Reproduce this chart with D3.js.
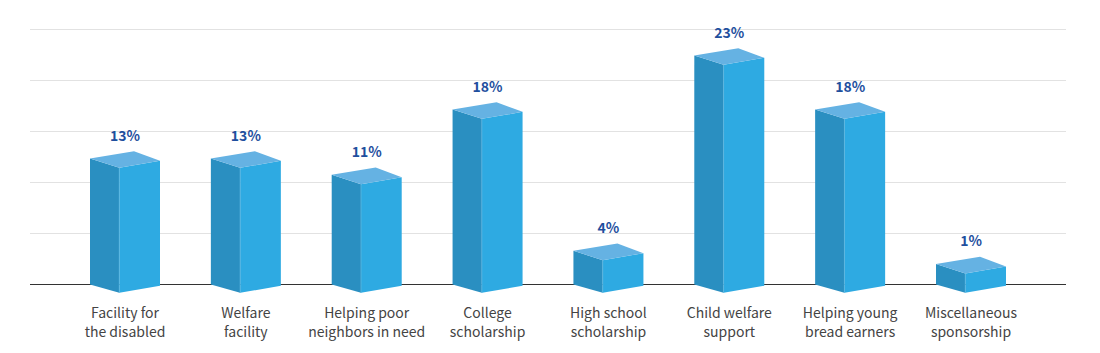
<!DOCTYPE html>
<html>
<head>
<meta charset="utf-8">
<script src="https://cdn.jsdelivr.net/npm/d3@7"></script>
<style>
html, body { margin: 0; padding: 0; background: #fff; }
svg, svg text { display: block; font-family: "Noto Sans CJK KR", "Noto Sans", sans-serif; }
</style>
</head>
<body>
<svg width="1100" height="353"></svg>
<script>
var categories = [
  ["Facility for", "the disabled"],
  ["Welfare", "facility"],
  ["Helping poor", "neighbors in need"],
  ["College", "scholarship"],
  ["High school", "scholarship"],
  ["Child welfare", "support"],
  ["Helping young", "bread earners"],
  ["Miscellaneous", "sponsorship"]
];
var labels = ["13%", "13%", "11%", "18%", "4%", "23%", "18%", "1%"];
// drawn heights, in grid units (the 3d columns don't follow the printed % exactly)
var heights = [12.35, 12.35, 10.75, 17.15, 3.3, 22.45, 17.15, 2.0];
var gridTicks = [0, 5, 10, 15, 20, 25];

var svg = d3.select("svg");

var x = d3.scalePoint().domain(d3.range(categories.length)).range([125, 971]);
var y = d3.scaleLinear().domain([0, 25]).range([284.5, 29.5]);

// gridlines
var grid = svg.append("g")
  .attr("transform", "translate(30,0)")
  .call(d3.axisLeft(y).offset(0).tickValues(gridTicks).tickSize(-1036).tickFormat(""));
grid.select(".domain").remove();
grid.selectAll("line").attr("stroke", "#e2e2e2");

// baseline
svg.append("line")
  .attr("x1", 30).attr("x2", 1066)
  .attr("y1", y(0)).attr("y2", y(0))
  .attr("stroke", "#333");

// x labels
var xAxis = svg.append("g")
  .attr("transform", "translate(0," + y(0) + ")")
  .call(d3.axisBottom(x).offset(0).tickSize(0).tickFormat(""));
xAxis.select(".domain").remove();
xAxis.selectAll(".tick text").each(function(d) {
  var t = d3.select(this).attr("y", 0).attr("dy", null)
    .attr("fill", "#444").attr("font-size", 14);
  t.selectAll("tspan").data(categories[d]).enter().append("tspan")
    .attr("x", 0)
    .attr("y", function(s, i) { return 33.5 + i * 19; })
    .text(function(s) { return s; });
});

// columns
var bars = svg.selectAll(".bar").data(heights).enter().append("g")
  .attr("class", "bar")
  .attr("transform", function(d, i) { return "translate(" + x(i) + ",0)"; });

function pts(a) { return a.map(function(p) { return p.join(","); }).join(" "); }

bars.append("polygon")
  .attr("fill", "#2a8fc1")
  .attr("points", function(d) {
    var t = y(d), b = y(0);
    return pts([[-35, t], [-5.7, t + 9.3], [-5.7, b + 8.3], [-35, b]]);
  });
bars.append("polygon")
  .attr("fill", "#2eaae2")
  .attr("points", function(d) {
    var t = y(d), b = y(0);
    return pts([[-5.7, t + 9.3], [35, t + 2.3], [35, b + 1.3], [-5.7, b + 8.3]]);
  });
bars.append("polygon")
  .attr("fill", "#65b2e3")
  .attr("points", function(d) {
    var t = y(d);
    return pts([[-35, t], [9, t - 7.3], [35, t + 2.3], [-5.7, t + 9.3]]);
  });
// light seam on the front edge
bars.append("line")
  .attr("x1", -5.7).attr("x2", -5.7)
  .attr("y1", function(d) { return y(d) + 9.3; })
  .attr("y2", y(0) + 8.3)
  .attr("stroke", "#5cb6e0").attr("stroke-width", 0.8);

// value labels
bars.append("text")
  .attr("text-anchor", "middle")
  .attr("y", function(d) { return y(d) - 18; })
  .attr("fill", "#1f4f9e")
  .attr("font-size", 14)
  .attr("font-weight", 700)
  .text(function(d, i) { return labels[i]; });
</script>
</body>
</html>
